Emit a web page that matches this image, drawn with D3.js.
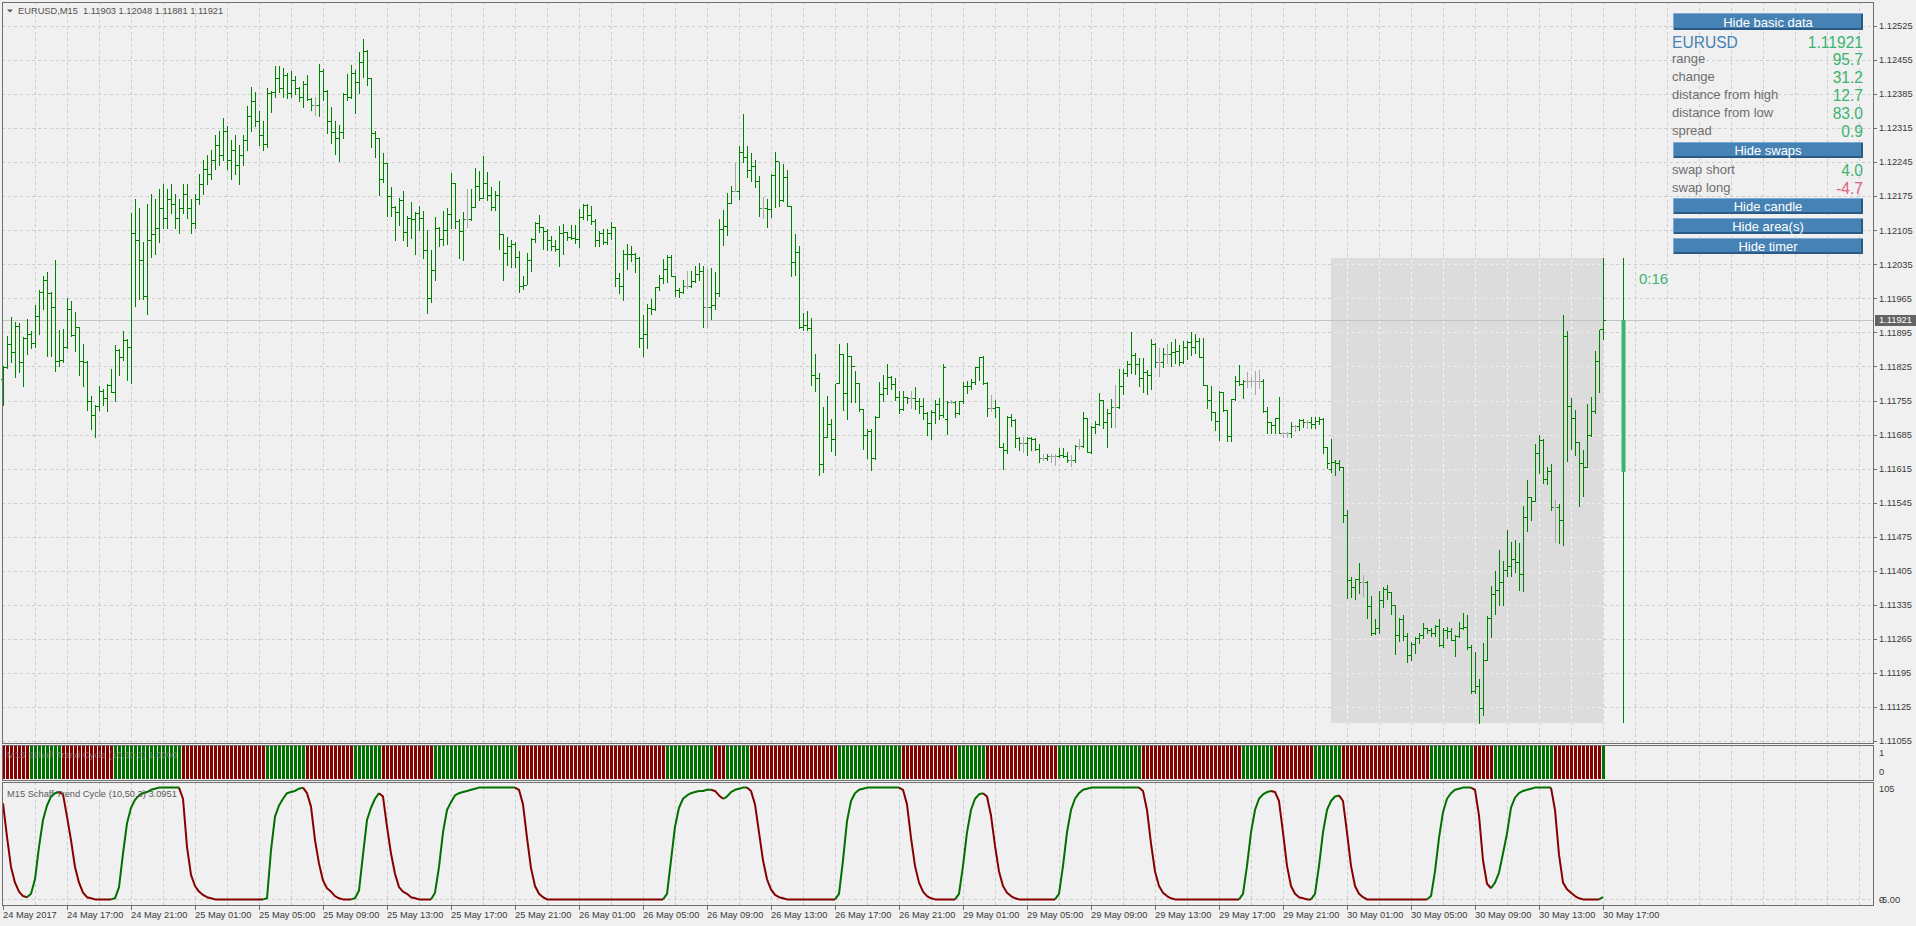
<!DOCTYPE html>
<html>
<head>
<meta charset="utf-8">
<script src="https://cdn.jsdelivr.net/npm/d3@7"></script>
<style>
  body { margin: 0; background: #f0f0f0; overflow: hidden; }
  text { font-family: "Liberation Sans", Arial, sans-serif; }
</style>
</head>
<body>
<div id="chart"></div>
<script>
// ---- data (EURUSD, M15 bars, 24 May 13:00 .. 30 May 17:00) ----
const barOpen = [
  1.11800,1.11824,1.11871,1.11854,1.11909,1.11834,1.11883,1.11892,1.11873,1.11929,
  1.11979,1.12003,1.11977,1.11948,1.11837,1.11839,1.11865,1.11944,1.11890,1.11906,
  1.11837,1.11835,1.11755,1.11726,1.11743,1.11775,1.11760,1.11787,1.11772,1.11859,
  1.11844,1.11879,1.11866,1.12100,1.12085,1.12044,1.11970,1.12084,1.12098,1.12110,
  1.12150,1.12130,1.12170,1.12160,1.12130,1.12150,1.12180,1.12150,1.12120,1.12170,
  1.12200,1.12230,1.12220,1.12250,1.12280,1.12260,1.12310,1.12250,1.12270,1.12240,
  1.12260,1.12290,1.12340,1.12370,1.12330,1.12300,1.12282,1.12387,1.12390,1.12418,
  1.12397,1.12425,1.12387,1.12414,1.12397,1.12380,1.12406,1.12375,1.12363,1.12363,
  1.12433,1.12392,1.12329,1.12307,1.12294,1.12308,1.12385,1.12380,1.12429,1.12409,
  1.12451,1.12474,1.12418,1.12305,1.12294,1.12210,1.12244,1.12175,1.12153,1.12142,
  1.12168,1.12101,1.12130,1.12129,1.12140,1.12130,1.12064,1.11966,1.12024,1.12109,
  1.12087,1.12105,1.12139,1.12203,1.12125,1.12103,1.12128,1.12128,1.12153,1.12197,
  1.12172,1.12202,1.12177,1.12152,1.12177,1.12097,1.12059,1.12073,1.12077,1.12051,
  1.11991,1.11993,1.12043,1.12087,1.12120,1.12111,1.12104,1.12084,1.12072,1.12066,
  1.12099,1.12101,1.12091,1.12089,1.12087,1.12133,1.12157,1.12137,1.12125,1.12084,
  1.12099,1.12080,1.12099,1.12111,1.12007,1.11991,1.12057,1.12056,1.12057,1.12048,
  1.11883,1.11891,1.11945,1.11943,1.11988,1.12007,1.12025,1.12051,1.12010,1.11983,
  1.11978,1.11991,1.11991,1.12001,1.12015,1.12022,1.11947,1.11947,1.11952,1.11976,
  1.12107,1.12114,1.12161,1.12186,1.12186,1.12266,1.12255,1.12229,1.12238,1.12207,
  1.12150,1.12150,1.12148,1.12218,1.12248,1.12168,1.12214,1.12155,1.12039,1.12060,
  1.11906,1.11910,1.11905,1.11808,1.11801,1.11625,1.11679,1.11706,1.11675,1.11792,
  1.11851,1.11771,1.11847,1.11826,1.11792,1.11737,1.11684,1.11692,1.11636,1.11722,
  1.11768,1.11781,1.11804,1.11790,1.11762,1.11737,1.11762,1.11760,1.11760,1.11753,
  1.11744,1.11729,1.11708,1.11732,1.11748,1.11725,1.11716,1.11752,1.11752,1.11730,
  1.11754,1.11785,1.11784,1.11794,1.11823,1.11845,1.11792,1.11739,1.11739,1.11741,
  1.11660,1.11653,1.11722,1.11715,1.11677,1.11668,1.11668,1.11677,1.11675,1.11655,
  1.11636,1.11636,1.11641,1.11641,1.11641,1.11643,1.11640,1.11633,1.11633,1.11662,
  1.11662,1.11719,1.11650,1.11701,1.11707,1.11756,1.11710,1.11729,1.11742,1.11742,
  1.11784,1.11811,1.11830,1.11849,1.11830,1.11801,1.11814,1.11808,1.11871,1.11834,
  1.11834,1.11851,1.11851,1.11854,1.11856,1.11835,1.11866,1.11876,1.11866,1.11878,
  1.11845,1.11786,1.11756,1.11731,1.11712,1.11772,1.11736,1.11682,1.11758,1.11796,
  1.11789,1.11795,1.11795,1.11795,1.11795,1.11795,1.11734,1.11710,1.11705,1.11719,
  1.11688,1.11688,1.11688,1.11703,1.11703,1.11715,1.11710,1.11710,1.11706,1.11712,
  1.11717,1.11660,1.11615,1.11628,1.11626,1.11619,1.11519,1.11386,1.11371,1.11388,
  1.11381,1.11381,1.11332,1.11277,1.11287,1.11344,1.11368,1.11361,1.11334,1.11272,
  1.11306,1.11270,1.11232,1.11255,1.11266,1.11273,1.11288,1.11284,1.11278,1.11292,
  1.11253,1.11284,1.11282,1.11263,1.11270,1.11287,1.11290,1.11249,1.11157,1.11168,
  1.11123,1.11221,1.11308,1.11357,1.11366,1.11382,1.11406,1.11415,1.11429,1.11424,
  1.11399,1.11516,1.11556,1.11549,1.11647,1.11674,1.11593,1.11610,1.11537,1.11537,
  1.11510,1.11888,1.11743,1.11720,1.11669,1.11626,1.11619,1.11684,1.11734,1.11836,
  1.11903
];
const barHigh = [
  1.11825,1.11887,1.11927,1.11917,1.11914,1.11885,1.11922,1.11897,1.11952,1.11983,
  1.12010,1.12020,1.11979,1.12044,1.11900,1.11902,1.11966,1.11959,1.11937,1.11907,
  1.11872,1.11837,1.11765,1.11745,1.11784,1.11779,1.11790,1.11820,1.11870,1.11861,
  1.11897,1.11881,1.12140,1.12170,1.12150,1.12081,1.12160,1.12180,1.12170,1.12190,
  1.12200,1.12190,1.12200,1.12180,1.12170,1.12200,1.12200,1.12170,1.12180,1.12220,
  1.12250,1.12260,1.12270,1.12300,1.12310,1.12335,1.12320,1.12290,1.12300,1.12280,
  1.12300,1.12360,1.12400,1.12390,1.12350,1.12330,1.12397,1.12392,1.12443,1.12443,
  1.12439,1.12428,1.12433,1.12422,1.12399,1.12412,1.12425,1.12377,1.12380,1.12447,
  1.12437,1.12394,1.12358,1.12329,1.12322,1.12387,1.12427,1.12444,1.12435,1.12472,
  1.12499,1.12476,1.12418,1.12310,1.12294,1.12264,1.12244,1.12195,1.12154,1.12171,
  1.12186,1.12135,1.12164,1.12142,1.12155,1.12145,1.12106,1.12065,1.12132,1.12112,
  1.12145,1.12150,1.12222,1.12203,1.12128,1.12142,1.12190,1.12190,1.12233,1.12226,
  1.12258,1.12225,1.12194,1.12186,1.12207,1.12098,1.12092,1.12084,1.12081,1.12062,
  1.12011,1.12059,1.12089,1.12122,1.12137,1.12111,1.12107,1.12094,1.12085,1.12113,
  1.12118,1.12102,1.12115,1.12115,1.12149,1.12159,1.12159,1.12154,1.12128,1.12104,
  1.12107,1.12107,1.12123,1.12111,1.12018,1.12065,1.12076,1.12073,1.12059,1.12050,
  1.11931,1.11954,1.11963,1.11988,1.12013,1.12046,1.12054,1.12054,1.12012,1.11986,
  1.12003,1.12022,1.12022,1.12031,1.12037,1.12031,1.12025,1.12028,1.12020,1.12128,
  1.12147,1.12181,1.12196,1.12244,1.12278,1.12344,1.12278,1.12263,1.12250,1.12217,
  1.12174,1.12170,1.12221,1.12265,1.12246,1.12241,1.12228,1.12155,1.12098,1.12072,
  1.11935,1.11940,1.11925,1.11851,1.11812,1.11741,1.11764,1.11716,1.11790,1.11871,
  1.11851,1.11873,1.11847,1.11816,1.11792,1.11737,1.11696,1.11696,1.11723,1.11794,
  1.11807,1.11830,1.11806,1.11801,1.11775,1.11775,1.11763,1.11775,1.11782,1.11760,
  1.11760,1.11732,1.11736,1.11757,1.11760,1.11831,1.11754,1.11756,1.11753,1.11755,
  1.11794,1.11796,1.11799,1.11823,1.11845,1.11847,1.11794,1.11766,1.11756,1.11741,
  1.11667,1.11723,1.11727,1.11716,1.11681,1.11681,1.11681,1.11681,1.11677,1.11666,
  1.11645,1.11645,1.11646,1.11646,1.11657,1.11657,1.11650,1.11643,1.11664,1.11675,
  1.11731,1.11719,1.11703,1.11712,1.11770,1.11756,1.11738,1.11758,1.11787,1.11820,
  1.11819,1.11836,1.11896,1.11852,1.11842,1.11842,1.11818,1.11881,1.11873,1.11862,
  1.11862,1.11871,1.11875,1.11881,1.11869,1.11877,1.11877,1.11895,1.11891,1.11883,
  1.11883,1.11786,1.11785,1.11731,1.11775,1.11772,1.11736,1.11758,1.11805,1.11828,
  1.11797,1.11814,1.11804,1.11816,1.11818,1.11799,1.11741,1.11710,1.11719,1.11762,
  1.11691,1.11691,1.11710,1.11705,1.11717,1.11717,1.11714,1.11721,1.11721,1.11721,
  1.11720,1.11660,1.11676,1.11632,1.11633,1.11619,1.11530,1.11392,1.11388,1.11421,
  1.11397,1.11383,1.11353,1.11305,1.11364,1.11371,1.11376,1.11361,1.11335,1.11308,
  1.11314,1.11277,1.11258,1.11268,1.11277,1.11297,1.11288,1.11287,1.11294,1.11306,
  1.11287,1.11290,1.11288,1.11273,1.11299,1.11318,1.11314,1.11253,1.11238,1.11183,
  1.11256,1.11311,1.11374,1.11404,1.11448,1.11426,1.11489,1.11464,1.11469,1.11462,
  1.11538,1.11592,1.11556,1.11666,1.11684,1.11676,1.11618,1.11625,1.11551,1.11543,
  1.11931,1.11898,1.11761,1.11736,1.11669,1.11653,1.11747,1.11763,1.11856,1.11900,
  1.12048
];
const barLow = [
  1.11745,1.11822,1.11835,1.11803,1.11813,1.11784,1.11851,1.11863,1.11866,1.11892,
  1.11944,1.11846,1.11847,1.11815,1.11825,1.11835,1.11862,1.11888,1.11856,1.11808,
  1.11784,1.11736,1.11697,1.11681,1.11735,1.11745,1.11734,1.11772,1.11753,1.11808,
  1.11839,1.11798,1.11792,1.11950,1.11964,1.11964,1.11932,1.12051,1.12057,1.12080,
  1.12110,1.12110,1.12140,1.12110,1.12100,1.12140,1.12130,1.12100,1.12110,1.12160,
  1.12180,1.12200,1.12210,1.12230,1.12240,1.12250,1.12230,1.12210,1.12220,1.12200,
  1.12240,1.12270,1.12310,1.12320,1.12280,1.12270,1.12277,1.12349,1.12380,1.12390,
  1.12380,1.12378,1.12380,1.12385,1.12370,1.12359,1.12372,1.12353,1.12342,1.12340,
  1.12373,1.12306,1.12285,1.12262,1.12248,1.12294,1.12372,1.12378,1.12347,1.12388,
  1.12421,1.12404,1.12276,1.12255,1.12177,1.12205,1.12135,1.12135,1.12084,1.12116,
  1.12085,1.12072,1.12090,1.12057,1.12106,1.12049,1.11935,1.11957,1.12002,1.12072,
  1.12075,1.12077,1.12109,1.12109,1.12048,1.12044,1.12111,1.12127,1.12153,1.12168,
  1.12171,1.12168,1.12146,1.12147,1.12067,1.12003,1.12034,1.12029,1.12029,1.11979,
  1.11985,1.11995,1.12022,1.12080,1.12102,1.12066,1.12065,1.12065,1.12063,1.12031,
  1.12057,1.12084,1.12087,1.12078,1.12070,1.12128,1.12126,1.12118,1.12073,1.12072,
  1.12077,1.12077,1.12088,1.11991,1.11977,1.11962,1.12026,1.12042,1.12020,1.11866,
  1.11847,1.11864,1.11933,1.11941,1.11983,1.11996,1.11998,1.12010,1.11970,1.11967,
  1.11976,1.11986,1.11988,1.11998,1.12003,1.11907,1.11907,1.11923,1.11944,1.11970,
  1.12075,1.12096,1.12161,1.12185,1.12170,1.12246,1.12215,1.12207,1.12195,1.12135,
  1.12131,1.12111,1.12133,1.12152,1.12154,1.12165,1.12154,1.12012,1.12013,1.11904,
  1.11900,1.11901,1.11787,1.11775,1.11601,1.11609,1.11679,1.11652,1.11643,1.11792,
  1.11736,1.11717,1.11751,1.11751,1.11734,1.11656,1.11636,1.11612,1.11634,1.11722,
  1.11755,1.11768,1.11779,1.11756,1.11729,1.11735,1.11749,1.11740,1.11737,1.11729,
  1.11718,1.11684,1.11675,1.11708,1.11718,1.11722,1.11686,1.11749,1.11722,1.11728,
  1.11749,1.11770,1.11778,1.11790,1.11797,1.11790,1.11723,1.11734,1.11722,1.11659,
  1.11614,1.11648,1.11703,1.11660,1.11653,1.11650,1.11642,1.11653,1.11653,1.11629,
  1.11633,1.11633,1.11629,1.11623,1.11638,1.11638,1.11628,1.11621,1.11629,1.11656,
  1.11660,1.11649,1.11648,1.11688,1.11705,1.11698,1.11660,1.11700,1.11701,1.11739,
  1.11769,1.11806,1.11811,1.11810,1.11785,1.11773,1.11769,1.11778,1.11823,1.11806,
  1.11823,1.11833,1.11826,1.11832,1.11828,1.11832,1.11840,1.11849,1.11852,1.11845,
  1.11786,1.11740,1.11715,1.11695,1.11673,1.11734,1.11671,1.11671,1.11756,1.11787,
  1.11761,1.11782,1.11784,1.11769,1.11781,1.11732,1.11689,1.11689,1.11688,1.11688,
  1.11679,1.11679,1.11681,1.11693,1.11695,1.11700,1.11698,1.11698,1.11698,1.11706,
  1.11647,1.11616,1.11609,1.11602,1.11612,1.11506,1.11349,1.11351,1.11347,1.11359,
  1.11354,1.11308,1.11272,1.11275,1.11277,1.11330,1.11347,1.11316,1.11234,1.11260,
  1.11262,1.11217,1.11222,1.11236,1.11256,1.11266,1.11278,1.11271,1.11271,1.11251,
  1.11248,1.11266,1.11262,1.11229,1.11268,1.11286,1.11245,1.11153,1.11153,1.11092,
  1.11108,1.11221,1.11269,1.11316,1.11334,1.11334,1.11395,1.11395,1.11403,1.11366,
  1.11364,1.11486,1.11510,1.11549,1.11607,1.11586,1.11583,1.11530,1.11465,1.11463,
  1.11457,1.11630,1.11656,1.11642,1.11539,1.11558,1.11619,1.11682,1.11729,1.11773,
  1.11881
];
const barClose = [
  1.11824,1.11871,1.11854,1.11909,1.11834,1.11883,1.11892,1.11873,1.11929,1.11979,
  1.12003,1.11977,1.11948,1.11837,1.11839,1.11865,1.11944,1.11890,1.11906,1.11837,
  1.11835,1.11755,1.11726,1.11743,1.11775,1.11760,1.11787,1.11772,1.11859,1.11844,
  1.11879,1.11866,1.12100,1.12085,1.12044,1.11970,1.12084,1.12098,1.12110,1.12150,
  1.12130,1.12170,1.12160,1.12130,1.12150,1.12180,1.12150,1.12120,1.12170,1.12200,
  1.12230,1.12220,1.12250,1.12280,1.12260,1.12310,1.12250,1.12270,1.12240,1.12260,
  1.12290,1.12340,1.12370,1.12330,1.12300,1.12282,1.12387,1.12390,1.12418,1.12397,
  1.12425,1.12387,1.12414,1.12397,1.12380,1.12406,1.12375,1.12363,1.12363,1.12433,
  1.12392,1.12329,1.12307,1.12294,1.12308,1.12385,1.12380,1.12429,1.12409,1.12451,
  1.12474,1.12418,1.12305,1.12294,1.12210,1.12244,1.12175,1.12153,1.12142,1.12168,
  1.12101,1.12130,1.12129,1.12140,1.12130,1.12064,1.11966,1.12024,1.12109,1.12087,
  1.12105,1.12139,1.12203,1.12125,1.12103,1.12128,1.12128,1.12153,1.12197,1.12172,
  1.12202,1.12177,1.12152,1.12177,1.12097,1.12059,1.12073,1.12077,1.12051,1.11991,
  1.11993,1.12043,1.12087,1.12120,1.12111,1.12104,1.12084,1.12072,1.12066,1.12099,
  1.12101,1.12091,1.12089,1.12087,1.12133,1.12157,1.12137,1.12125,1.12084,1.12099,
  1.12080,1.12099,1.12111,1.12007,1.11991,1.12057,1.12056,1.12057,1.12048,1.11883,
  1.11891,1.11945,1.11943,1.11988,1.12007,1.12025,1.12051,1.12010,1.11983,1.11978,
  1.11991,1.11991,1.12001,1.12015,1.12022,1.11947,1.11947,1.11952,1.11976,1.12107,
  1.12114,1.12161,1.12186,1.12186,1.12266,1.12255,1.12229,1.12238,1.12207,1.12150,
  1.12150,1.12148,1.12218,1.12248,1.12168,1.12214,1.12155,1.12039,1.12060,1.11906,
  1.11910,1.11905,1.11808,1.11801,1.11625,1.11679,1.11706,1.11675,1.11792,1.11851,
  1.11771,1.11847,1.11826,1.11792,1.11737,1.11684,1.11692,1.11636,1.11722,1.11768,
  1.11781,1.11804,1.11790,1.11762,1.11737,1.11762,1.11760,1.11760,1.11753,1.11744,
  1.11729,1.11708,1.11732,1.11748,1.11725,1.11823,1.11752,1.11752,1.11730,1.11754,
  1.11785,1.11784,1.11794,1.11823,1.11845,1.11792,1.11739,1.11739,1.11741,1.11660,
  1.11653,1.11722,1.11715,1.11677,1.11668,1.11668,1.11677,1.11675,1.11655,1.11636,
  1.11636,1.11641,1.11641,1.11641,1.11643,1.11640,1.11633,1.11633,1.11662,1.11662,
  1.11719,1.11650,1.11701,1.11707,1.11756,1.11710,1.11729,1.11742,1.11742,1.11784,
  1.11811,1.11830,1.11849,1.11830,1.11801,1.11814,1.11808,1.11871,1.11834,1.11834,
  1.11851,1.11851,1.11854,1.11856,1.11835,1.11866,1.11876,1.11866,1.11878,1.11845,
  1.11786,1.11756,1.11731,1.11712,1.11772,1.11736,1.11682,1.11758,1.11796,1.11789,
  1.11795,1.11795,1.11795,1.11795,1.11795,1.11734,1.11710,1.11705,1.11719,1.11688,
  1.11688,1.11688,1.11703,1.11703,1.11715,1.11710,1.11710,1.11706,1.11712,1.11717,
  1.11660,1.11626,1.11628,1.11626,1.11619,1.11519,1.11386,1.11371,1.11388,1.11381,
  1.11381,1.11332,1.11277,1.11287,1.11344,1.11368,1.11361,1.11334,1.11272,1.11306,
  1.11270,1.11232,1.11255,1.11266,1.11273,1.11288,1.11284,1.11278,1.11292,1.11253,
  1.11284,1.11282,1.11263,1.11270,1.11287,1.11290,1.11249,1.11157,1.11168,1.11123,
  1.11221,1.11308,1.11357,1.11366,1.11382,1.11406,1.11415,1.11429,1.11424,1.11399,
  1.11516,1.11556,1.11549,1.11647,1.11674,1.11593,1.11610,1.11537,1.11537,1.11510,
  1.11888,1.11743,1.11720,1.11669,1.11626,1.11619,1.11684,1.11734,1.11836,1.11903,
  1.11921
];
// Schaff Trend Cycle (10,50,3), one value per bar
const stc = [
  86,56,29,15,7,3,2,5,18,47,  71,84,92,95,96,94,74,53,29,15,
  6,2,1,0,0,0,0,0,1,11,  41,68,82,89,93,95,96,98,99,100,
  100,100,100,100,100,90,47,22,12,7,  4,2,1,0,0,0,0,0,0,0,
  0,0,0,0,0,0,1,44,74,84,  90,95,96,97,99,100,95,83,53,32,
  17,10,7,3,1,0,0,0,1,8,  40,71,82,90,95,92,65,41,23,11,
  7,5,2,1,0,0,0,0,6,29,  60,80,87,93,95,96,97,98,99,100,
  100,100,100,100,100,100,100,100,100,98,  85,55,28,12,5,2,0,0,0,0,
  0,0,0,0,0,0,0,0,0,0,  0,0,0,0,0,0,0,0,0,0,
  0,0,0,0,0,0,5,35,65,82,  90,93,95,96,97,97,98,98,97,93,
  90,92,96,98,99,100,100,97,85,60,  35,18,9,4,2,1,0,0,0,0,
  0,0,0,0,0,0,0,0,0,5,  35,70,88,95,98,99,100,100,100,100,
  100,100,100,100,100,98,85,55,30,15,  7,3,1,0,0,0,0,0,0,5,
  30,60,80,90,94,95,92,75,48,25,  12,6,3,1,0,0,0,0,0,0,
  0,0,0,0,5,30,60,80,90,95,  98,99,100,100,100,100,100,100,100,100,
  100,100,100,100,100,97,80,50,25,12,  6,3,1,0,0,0,0,0,0,0,
  0,0,0,0,0,0,0,0,0,0,  5,30,60,80,90,94,96,97,96,88,
  60,30,12,5,2,1,0,0,5,30,  60,80,88,92,93,88,60,30,12,5,
  2,0,0,0,0,0,0,0,0,0,  0,0,0,0,0,0,0,3,25,55,
  78,90,95,98,99,100,100,100,98,75,  35,14,10,15,24,41,59,82,91,95,
  97,98,99,100,100,100,100,100,80,40,  15,9,6,3,1,0,0,0,0,0,
  2
];
const timeLabels = ["24 May 2017","24 May 17:00","24 May 21:00","25 May 01:00","25 May 05:00",
  "25 May 09:00","25 May 13:00","25 May 17:00","25 May 21:00","26 May 01:00","26 May 05:00",
  "26 May 09:00","26 May 13:00","26 May 17:00","26 May 21:00","29 May 01:00","29 May 05:00",
  "29 May 09:00","29 May 13:00","29 May 17:00","29 May 21:00","30 May 01:00","30 May 05:00",
  "30 May 09:00","30 May 13:00","30 May 17:00"];
const priceTicks = ["1.11055","1.11125","1.11195","1.11265","1.11335","1.11405","1.11475",
  "1.11545","1.11615","1.11685","1.11755","1.11825","1.11895","1.11965","1.12035","1.12105",
  "1.12175","1.12245","1.12315","1.12385","1.12455","1.12525"];
const bidPrice = 1.11921;
const dayCandle = [1.11609, 1.12048, 1.11091, 1.11921]; // open, high, low, close of 30 May
const dayStartBar = 332;
const infoRows = [["range", "95.7"], ["change", "31.2"], ["distance from high", "12.7"],
  ["distance from low", "83.0"], ["spread", "0.9"]];
const swapRows = [["swap short", "4.0"], ["swap long", "-4.7"]];
const buttonLabels = ["Hide basic data", "Hide swaps", "Hide candle", "Hide area(s)", "Hide timer"];
const timerText = "0:16";

if (barOpen.length !== barClose.length || barHigh.length !== barClose.length ||
    barLow.length !== barClose.length || stc.length !== barClose.length) {
  throw new Error("length mismatch " + [barOpen.length, barHigh.length, barLow.length, barClose.length, stc.length]);
}

const nBars = barClose.length;
const green = "#008000", stcUp = "#007000", stcDown = "#860000";
const gridColor = "#cdcdcd", textColor = "#3a3a3a";
const plotLeft = 2, plotRight = 1873;
const mainTop = 2, mainBottom = 743;
const histTop = 745, histBottom = 780;
const stcTop = 782, stcBottom = 905;

const x = d3.scaleLinear().domain([0, nBars - 1]).range([3, 1603]);
const y = d3.scaleLinear().domain([1.11055, 1.12525]).range([741, 26]);
const yHist = d3.scaleLinear().domain([-0.35, 1.35]).range([779, 746]);
const yStc = d3.scaleLinear().domain([-5, 105]).range([905, 782]);
const px = (i) => Math.round(x(i));
const py = (v) => Math.round(y(v)) + 0.5;

const svg = d3.select("#chart").append("svg")
  .attr("width", 1916).attr("height", 926)
  .style("display", "block")
  .style("background", "#f0f0f0");

// ---- grid ----
const gridBars = d3.range(8, 465, 8);
function vGrid(g, top, bottom, color) {
  g.selectAll(null).data(gridBars).join("line")
    .attr("x1", (d) => px(d) + 0.5).attr("x2", (d) => px(d) + 0.5)
    .attr("y1", top).attr("y2", bottom)
    .attr("stroke", color).attr("stroke-dasharray", "3,3");
}
function hGrid(g, color) {
  g.selectAll(null).data(priceTicks).join("line")
    .attr("x1", plotLeft).attr("x2", plotRight)
    .attr("y1", (d) => py(+d)).attr("y2", (d) => py(+d))
    .attr("stroke", color).attr("stroke-dasharray", "3,3");
}
const gridMain = svg.append("g").attr("shape-rendering", "crispEdges");
vGrid(gridMain, mainTop, mainBottom, gridColor);
hGrid(gridMain, gridColor);

// ---- today's high/low area ----
const areaX0 = px(dayStartBar), areaX1 = px(nBars - 1);
const areaY0 = Math.round(y(dayCandle[1])), areaY1 = Math.round(y(dayCandle[2]));
svg.append("rect")
  .attr("x", areaX0).attr("y", areaY0)
  .attr("width", areaX1 - areaX0).attr("height", areaY1 - areaY0)
  .attr("fill", "#dcdcdc");
svg.append("clipPath").attr("id", "areaClip").append("rect")
  .attr("x", areaX0).attr("y", areaY0)
  .attr("width", areaX1 - areaX0).attr("height", areaY1 - areaY0);
const gridArea = svg.append("g").attr("clip-path", "url(#areaClip)").attr("shape-rendering", "crispEdges");
vGrid(gridArea, mainTop, mainBottom, "#f6f6f6");
hGrid(gridArea, "#ececec");

// bid line
svg.append("line")
  .attr("x1", plotLeft).attr("x2", plotRight)
  .attr("y1", py(bidPrice)).attr("y2", py(bidPrice))
  .attr("stroke", "#c4c4c4").attr("shape-rendering", "crispEdges");

// ---- OHLC bars ----
svg.append("g").attr("shape-rendering", "crispEdges")
  .selectAll("path").data(d3.range(nBars)).join("path")
  .attr("fill", "none")
  .attr("stroke", (i) => barOpen[i] === barClose[i] ? "#a8a8a8" : green)
  .attr("d", (i) => {
    const cx = px(i) + 0.5;
    const yh = Math.round(y(barHigh[i])), yl = Math.round(y(barLow[i])) + 1;
    return `M${cx},${yh}V${yl}` +
      `M${px(i) - 2},${py(barOpen[i])}H${px(i)}` +
      `M${px(i) + 1},${py(barClose[i])}H${px(i) + 3}`;
  });

// ---- daily candle to the right ----
const candleX = px(nBars - 1 + 5);
svg.append("line")
  .attr("x1", candleX + 0.5).attr("x2", candleX + 0.5)
  .attr("y1", Math.round(y(dayCandle[1]))).attr("y2", Math.round(y(dayCandle[2])))
  .attr("stroke", green).attr("shape-rendering", "crispEdges");
svg.append("rect")
  .attr("x", candleX - 1.5).attr("width", 4)
  .attr("y", Math.round(y(dayCandle[3])))
  .attr("height", Math.round(y(dayCandle[0])) - Math.round(y(dayCandle[3])))
  .attr("fill", "#3cb371");
svg.append("text")
  .attr("x", 1639).attr("y", 284)
  .attr("font-size", 15).attr("fill", "#3cb371")
  .text(timerText);

// ---- trend direction of STC (used by histogram and line colours) ----
const trend = [];
stc.forEach((v, i) => {
  if (i === 0) trend.push(stc[1] > v ? 1 : -1);
  else if (v > stc[i - 1]) trend.push(1);
  else if (v < stc[i - 1]) trend.push(-1);
  else trend.push(trend[i - 1]);
});

// ---- histogram panel ----
const histG = svg.append("g").attr("shape-rendering", "crispEdges");
vGrid(histG, histTop, histBottom, gridColor);
histG.selectAll("rect").data(d3.range(nBars)).join("rect")
  .attr("x", (i) => px(i) - 1).attr("width", 3)
  .attr("y", yHist(1.35)).attr("height", yHist(-0.35) - yHist(1.35))
  .attr("fill", (i) => trend[i] > 0 ? stcUp : stcDown);
svg.append("text")
  .attr("x", 7).attr("y", 758)
  .attr("font-size", 9.3).attr("fill", "#8a8a8a").attr("fill-opacity", 0.75)
  .text("M15 Schaff Trend Cycle (10,50,3) 1.0000");

// ---- STC panel ----
const stcG = svg.append("g");
vGrid(stcG.attr("shape-rendering", "crispEdges"), stcTop, stcBottom, gridColor);
stcG.append("line")
  .attr("x1", plotLeft).attr("x2", plotRight)
  .attr("y1", Math.round(yStc(0)) + 0.5).attr("y2", Math.round(yStc(0)) + 0.5)
  .attr("stroke", gridColor).attr("stroke-dasharray", "3,3");

const runs = [];
for (let i = 1; i < nBars; i++) {
  const last = runs[runs.length - 1];
  if (last && last.t === trend[i]) last.idx.push(i);
  else runs.push({ t: trend[i], idx: [i - 1, i] });
}
const stcLine = d3.line().x((i) => x(i)).y((i) => yStc(stc[i]));
svg.append("g").selectAll("path").data(runs).join("path")
  .attr("fill", "none")
  .attr("stroke", (d) => d.t > 0 ? stcUp : stcDown)
  .attr("stroke-width", 2)
  .attr("stroke-linejoin", "round")
  .attr("d", (d) => stcLine(d.idx));

svg.append("text")
  .attr("x", 7).attr("y", 797)
  .attr("font-size", 9.3).attr("fill", "#5a5a5a")
  .text("M15 Schaff Trend Cycle (10,50,3) 3.0951");

// ---- panel frames ----
svg.append("g").attr("shape-rendering", "crispEdges")
  .selectAll("rect").data([[mainTop, mainBottom], [histTop, histBottom], [stcTop, stcBottom]]).join("rect")
  .attr("x", plotLeft + 0.5).attr("y", (d) => d[0] + 0.5)
  .attr("width", plotRight - plotLeft).attr("height", (d) => d[1] - d[0])
  .attr("fill", "none").attr("stroke", "#707070");

// ---- price axis ----
const axisG = svg.append("g").attr("font-size", 9.3).attr("fill", textColor);
axisG.selectAll("line").data(priceTicks).join("line")
  .attr("x1", plotRight + 1).attr("x2", plotRight + 4)
  .attr("y1", (d) => py(+d)).attr("y2", (d) => py(+d))
  .attr("stroke", "#707070").attr("shape-rendering", "crispEdges");
axisG.selectAll("text").data(priceTicks).join("text")
  .attr("x", plotRight + 6).attr("y", (d) => y(+d))
  .attr("dy", "0.35em")
  .text((d) => d);

svg.append("rect")
  .attr("x", plotRight + 2).attr("y", Math.round(y(bidPrice)) - 5)
  .attr("width", 1916 - plotRight - 2).attr("height", 11)
  .attr("fill", "#646464");
svg.append("text")
  .attr("x", plotRight + 6).attr("y", y(bidPrice)).attr("dy", "0.35em")
  .attr("font-size", 9.3).attr("fill", "#ffffff")
  .text(bidPrice.toFixed(5));

// indicator scales
const sideLabels = [[yHist(1), "1"], [yHist(0), "0"], [yStc(105) + 7, "105"], [yStc(0), "0"], [yStc(0), "-5.00"]];
svg.append("g").attr("font-size", 9.3).attr("fill", textColor)
  .selectAll("text").data(sideLabels).join("text")
  .attr("x", plotRight + 6).attr("y", (d) => d[0]).attr("dy", "0.35em")
  .text((d) => d[1]);

// ---- time axis ----
const timeG = svg.append("g");
timeG.selectAll("line").data(timeLabels).join("line")
  .attr("x1", (d, k) => px(16 * k) + 0.5).attr("x2", (d, k) => px(16 * k) + 0.5)
  .attr("y1", stcBottom + 1).attr("y2", stcBottom + 5)
  .attr("stroke", "#707070").attr("shape-rendering", "crispEdges");
timeG.selectAll("text").data(timeLabels).join("text")
  .attr("x", (d, k) => px(16 * k)).attr("y", 918)
  .attr("font-size", 9.3).attr("fill", textColor)
  .text((d) => d);

// ---- title ----
svg.append("path").attr("d", "M7,9.5L13,9.5L10,12.5Z").attr("fill", "#555");
svg.append("text")
  .attr("x", 18).attr("y", 13.5)
  .attr("font-size", 9.3).attr("fill", "#505050")
  .text(`EURUSD,M15  ${barOpen[nBars - 1].toFixed(5)} ${barHigh[nBars - 1].toFixed(5)} ${barLow[nBars - 1].toFixed(5)} ${barClose[nBars - 1].toFixed(5)}`)
  .attr("xml:space", "preserve").style("white-space", "pre");

// ---- info panel ----
const panelL = 1673, panelR = 1863;
const buttonTops = [13, 142, 198, 218, 238];
const info = svg.append("g");
buttonLabels.forEach((label, k) => {
  const top = buttonTops[k], h = k === 0 ? 17 : 16;
  const b = info.append("g").attr("shape-rendering", "crispEdges");
  b.append("rect").attr("x", panelL).attr("y", top).attr("width", panelR - panelL).attr("height", h).attr("fill", "#4682b4");
  b.append("path").attr("d", `M${panelL + 0.5},${top + h}V${top + 0.5}H${panelR}`).attr("fill", "none").attr("stroke", "#7ea9d6");
  b.append("path").attr("d", `M${panelL + 1},${top + h - 1}H${panelR - 1}V${top + 1}`).attr("fill", "none").attr("stroke", "#2b5a87").attr("stroke-width", 2);
  info.append("text")
    .attr("x", (panelL + panelR) / 2).attr("y", top + h / 2 + 0.5).attr("dy", "0.35em")
    .attr("text-anchor", "middle").attr("font-size", 13).attr("fill", "#ffffff")
    .text(label);
});
info.append("text").attr("x", panelL - 1).attr("y", 48).attr("font-size", 15.6).attr("fill", "#4682b4").text("EURUSD");
info.append("text").attr("x", panelR).attr("y", 48).attr("text-anchor", "end")
  .attr("font-size", 15.6).attr("fill", "#3cb371").text(bidPrice.toFixed(5));
infoRows.forEach((r, k) => {
  const base = 63 + 18 * k;
  info.append("text").attr("x", panelL - 1).attr("y", base).attr("font-size", 13).attr("fill", "#6e6e6e").text(r[0]);
  info.append("text").attr("x", panelR).attr("y", base + 2).attr("text-anchor", "end")
    .attr("font-size", 15.6).attr("fill", "#3cb371").text(r[1]);
});
swapRows.forEach((r, k) => {
  const base = 174 + 18 * k;
  info.append("text").attr("x", panelL - 1).attr("y", base).attr("font-size", 13).attr("fill", "#6e6e6e").text(r[0]);
  info.append("text").attr("x", panelR).attr("y", base + 2).attr("text-anchor", "end")
    .attr("font-size", 15.6).attr("fill", +r[1] < 0 ? "#dc6482" : "#3cb371").text(r[1]);
});
</script>
</body>
</html>
